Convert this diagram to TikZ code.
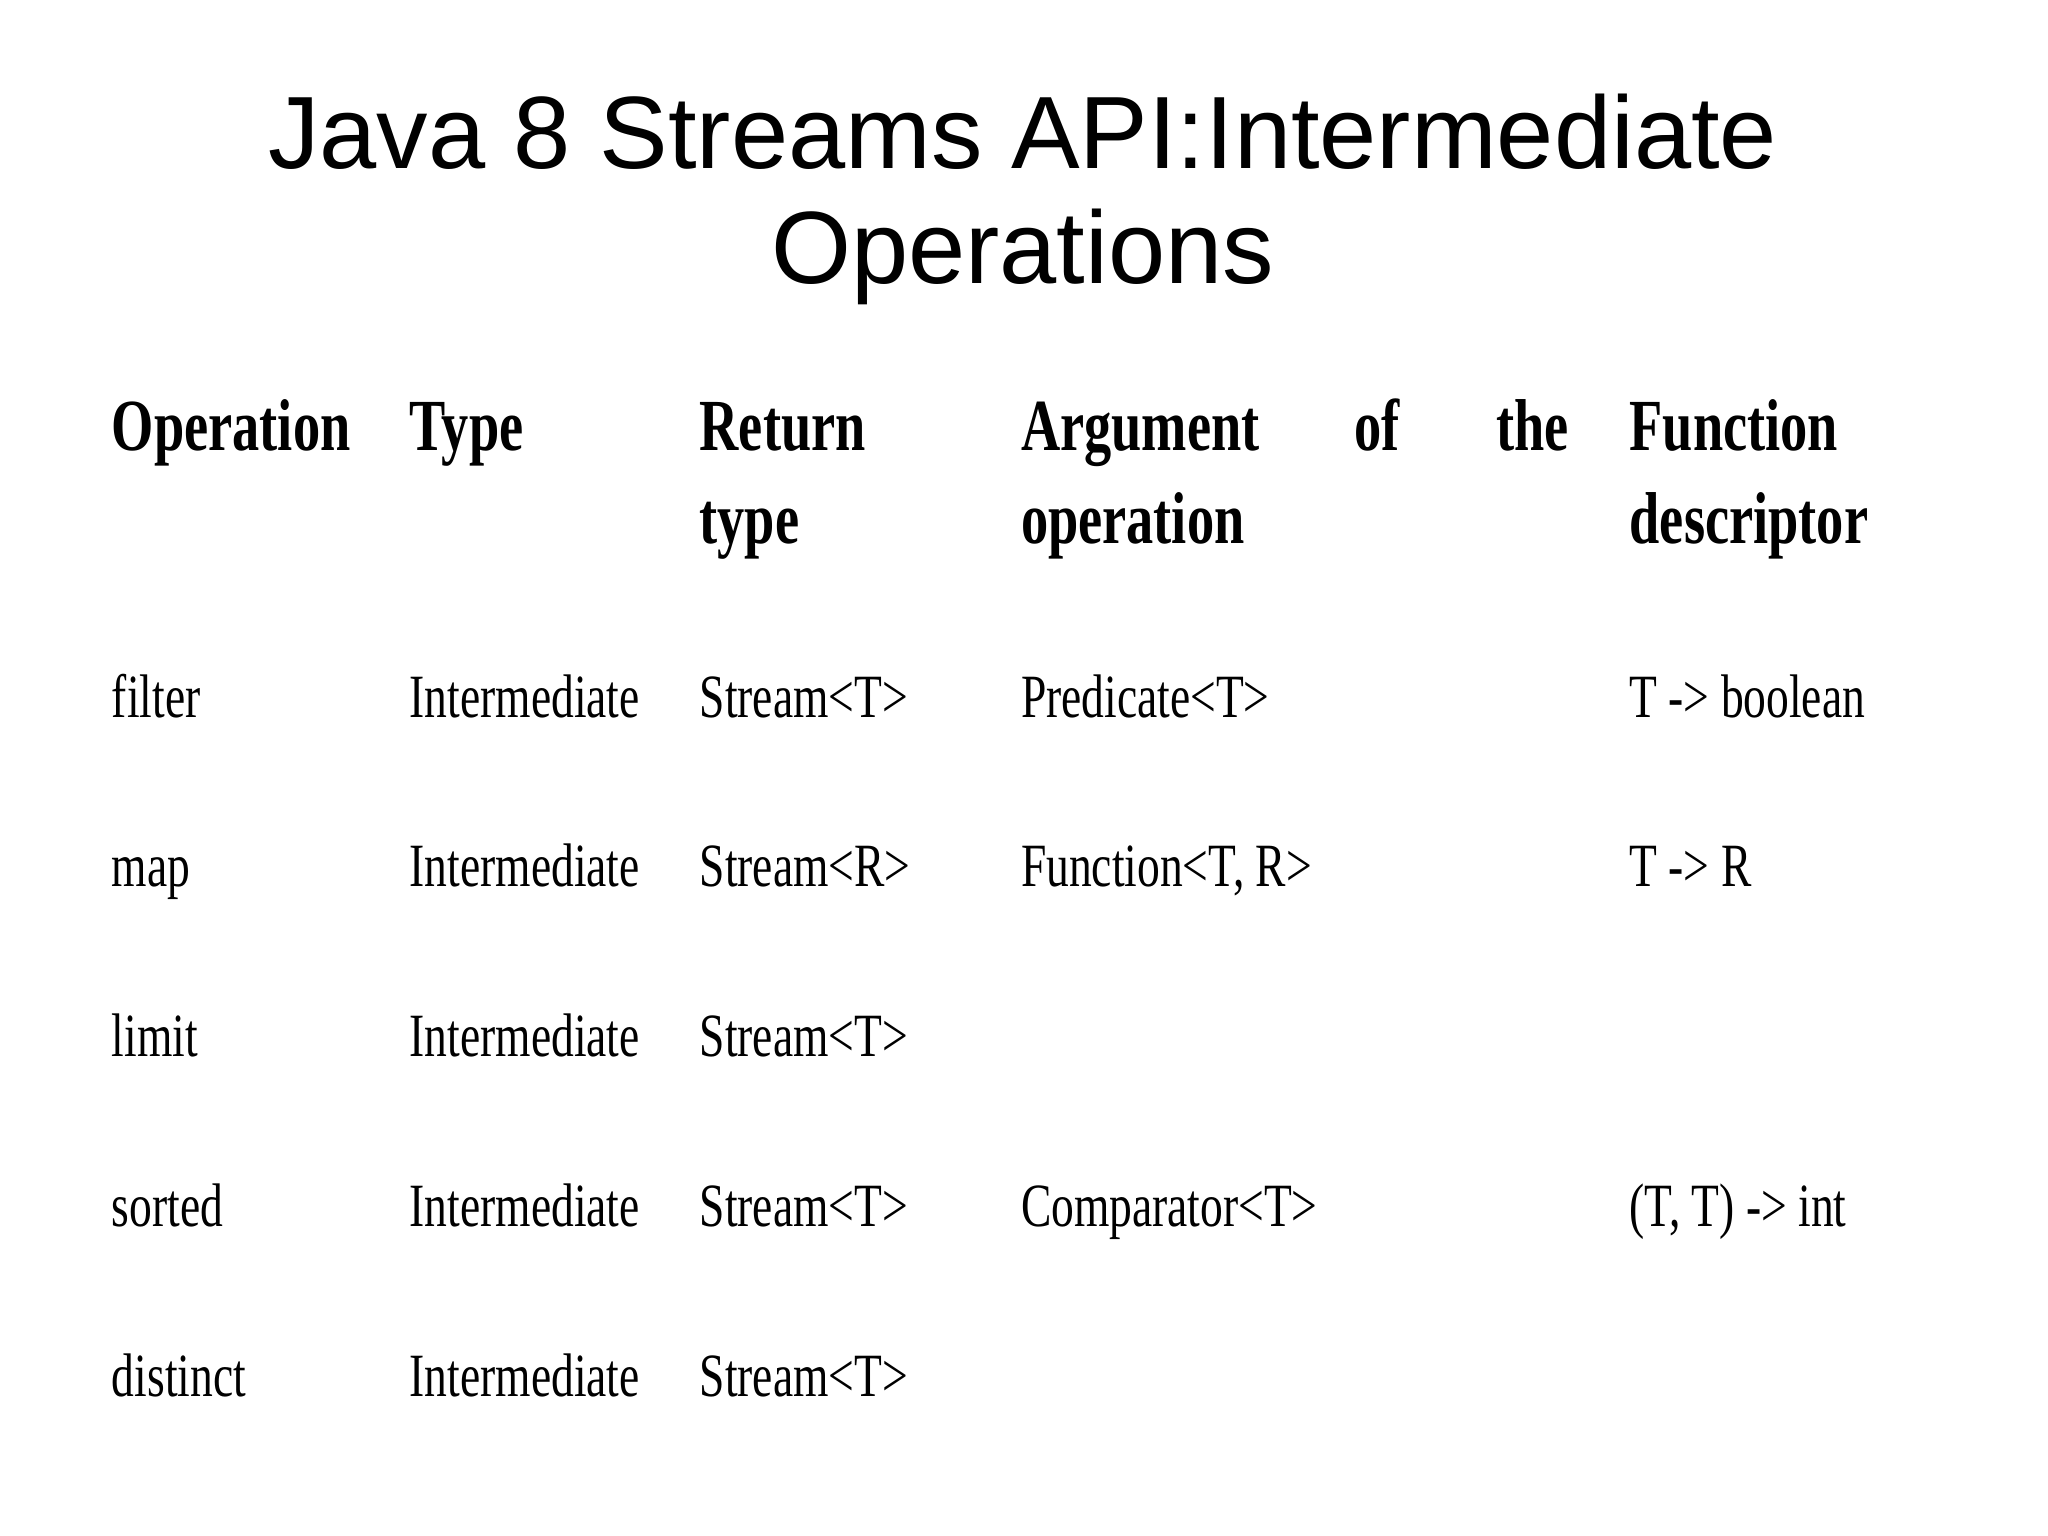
\documentclass[tikz,border=0pt]{standalone}
\usepackage{fontspec}
\setmainfont{Liberation Sans}
\newfontfamily\tabfont[FakeStretch=0.74]{Liberation Serif}
\usetikzlibrary{positioning}
\tikzset{
  cell/.style={anchor=base west, inner sep=0pt, font=\tabfont\fontsize{13.4}{16}\selectfont},
  head/.style={cell, font=\tabfont\bfseries\fontsize{16}{18}\selectfont},
  ttl/.style={anchor=base, inner sep=0pt, font=\fontsize{22.4}{26}\selectfont}
}
\begin{document}
\begin{tikzpicture}[x=1cm,y=-1cm]
  \useasboundingbox (0,0) rectangle (15.68,11.76);
  % title
  \node[ttl] (t1) at (7.83,1.29) {Java 8 Streams API:Intermediate};
  \node[ttl] (t2) at (7.83,2.17) {Operations};
  % header
  \node[head] (hop) at (0.85,3.45) {Operation};
  \node[head] (hty) at (3.13,3.45) {Type};
  \node[head] (hre) at (5.35,3.45) {Return};
  \node[head] (hre2) at (5.35,4.16) {type};
  \node[head] (har) at (7.81,3.45) {Argument};
  \node[head] (hof) at (10.36,3.45) {of};
  \node[head] (hth) at (11.45,3.45) {the};
  \node[head] (har2) at (7.81,4.16) {operation};
  \node[head] (hfd) at (12.47,3.45) {Function};
  \node[head] (hfd2) at (12.47,4.16) {descriptor};
  % rows
  \foreach \op/\ret/\arg/\fd [count=\i] in {
      filter/{Stream<T>}/{Predicate<T>}/{T -> boolean},
      map/{Stream<R>}/{Function<T, R>}/{T -> R},
      limit/{Stream<T>}/{}/{},
      sorted/{Stream<T>}/{Comparator<T>}/{(T, T) -> int},
      distinct/{Stream<T>}/{}/{}} {
    \pgfmathsetmacro\yy{5.49+1.3*(\i-1)}
    \node[cell] (op\i) at (0.85,\yy) {\op};
    \node[cell] (ty\i) at (3.13,\yy) {Intermediate};
    \node[cell] (re\i) at (5.35,\yy) {\ret};
    \node[cell] (ar\i) at (7.81,\yy) {\arg};
    \node[cell] (fd\i) at (12.47,\yy) {\fd};
  }
\end{tikzpicture}
\end{document}
